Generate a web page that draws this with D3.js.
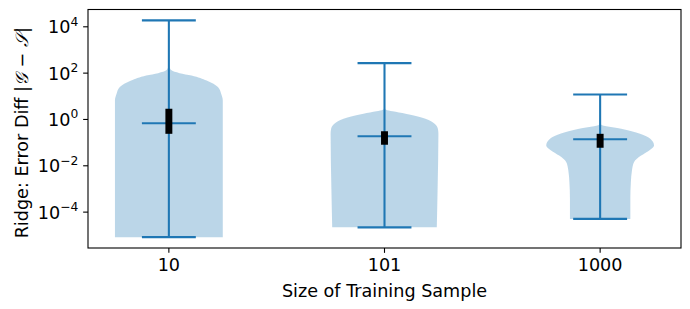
<!DOCTYPE html>
<html>
<head>
<meta charset="utf-8">
<script src="https://cdn.jsdelivr.net/npm/d3@7"></script>
<style>
  html, body { margin: 0; padding: 0; background: #fff; }
  svg { display: block; font-family: "DejaVu Sans", sans-serif; }
</style>
</head>
<body>
<svg id="chart" width="690" height="309"></svg>
<script>
// ---- data ----
const categories = ["10", "101", "1000"];
const whiskerMin = [8.3e-6, 2.2e-5, 5.1e-5];
const whiskerMax = [1.9e4, 270, 12];
const medians    = [0.69, 0.19, 0.14];
const quartile1  = [0.24, 0.081, 0.060];
const quartile3  = [2.9, 0.31, 0.24];
// violin outlines: [value, relative half-width]
const profile10 = [[1.9e4, 0], [200, 0.01], [132, 0.05], [100, 0.2], [79, 0.42], [48, 0.70],
                   [25, 0.91], [13, 0.97], [6.6, 1.0], [1, 1.0], [8.3e-6, 1.0]];
const profile101 = [[270, 0], [3, 0.01], [2.63, 0.03], [2.24, 0.15], [1.78, 0.39], [1.07, 0.76],
                    [0.65, 0.93], [0.40, 0.99], [0.24, 1.0], [1e-3, 0.985], [2.2e-5, 0.97]];
const profile1000 = [[12, 0], [0.7, 0.01], [0.59, 0.02], [0.40, 0.39], [0.24, 0.74], [0.148, 0.93],
                     [0.076, 1.0], [0.046, 0.91], [0.0275, 0.76], [0.0145, 0.63], [0.0063, 0.59],
                     [0.00195, 0.57], [3.7e-4, 0.56], [5.1e-5, 0.56]];
const profiles = [profile10, profile101, profile1000];
const yTickExponents = [-4, -2, 0, 2, 4];
const xLabel = "Size of Training Sample";

(function () {
// ---- layout ----
const svg = d3.select("#chart");
const mLeft = 88, mRight = 681, mTop = 9.5, mBottom = 248;
const C0 = "#1f77b4";
const fontSize = 17.6;

const positions = categories.map((d, i) => i + 1);
const x = d3.scaleLinear().domain([0.625, 3.375]).range([mLeft, mRight]);
const lo = Math.log10(d3.min(whiskerMin)), hi = Math.log10(d3.max(whiskerMax));
const pad = 0.05 * (hi - lo);
const y = d3.scaleLog().domain([Math.pow(10, lo - pad), Math.pow(10, hi + pad)]).range([mBottom, mTop]);

const halfW = x(1.25) - x(1);
const capW = x(1.125) - x(1);

// violin bodies
const g = svg.append("g");
profiles.forEach((prof, i) => {
  const cx = x(positions[i]);
  const area = d3.area()
    .y(d => y(d[0]))
    .x0(d => cx - d[1] * halfW)
    .x1(d => cx + d[1] * halfW)
    .curve(d3.curveMonotoneY);
  g.append("path")
    .attr("d", area(prof))
    .attr("fill", C0)
    .attr("fill-opacity", 0.3)
    .attr("stroke", "none");
});

// lines: vertical bars, caps, medians
positions.forEach((p, i) => {
  const cx = x(p);
  g.append("line").attr("x1", cx).attr("x2", cx)
    .attr("y1", y(whiskerMin[i])).attr("y2", y(whiskerMax[i]))
    .attr("stroke", C0).attr("stroke-width", 2.08);
  [whiskerMin[i], whiskerMax[i], medians[i]].forEach(v => {
    g.append("line").attr("x1", cx - capW).attr("x2", cx + capW)
      .attr("y1", y(v)).attr("y2", y(v))
      .attr("stroke", C0).attr("stroke-width", 2.08);
  });
  // quartile box
  g.append("line").attr("x1", cx).attr("x2", cx)
    .attr("y1", y(quartile1[i])).attr("y2", y(quartile3[i]))
    .attr("stroke", "#000").attr("stroke-width", 6.94);
});

// axes frame
svg.append("rect")
  .attr("x", mLeft).attr("y", mTop)
  .attr("width", mRight - mLeft).attr("height", mBottom - mTop)
  .attr("fill", "none").attr("stroke", "#000").attr("stroke-width", 1.1);

// x ticks
const xt = svg.append("g");
positions.forEach((p, i) => {
  const px = x(p);
  xt.append("line").attr("x1", px).attr("x2", px)
    .attr("y1", mBottom).attr("y2", mBottom + 4.86)
    .attr("stroke", "#000").attr("stroke-width", 1.1);
  xt.append("text").attr("x", px).attr("y", mBottom + 4.86 + 4.86 + 13.2)
    .attr("text-anchor", "middle").attr("font-size", fontSize).attr("fill", "#000")
    .text(categories[i]);
});

// y ticks
const yt = svg.append("g");
yTickExponents.forEach(e => {
  const py = y(Math.pow(10, e));
  yt.append("line").attr("x1", mLeft - 4.86).attr("x2", mLeft)
    .attr("y1", py).attr("y2", py)
    .attr("stroke", "#000").attr("stroke-width", 1.1);
  const t = yt.append("text").attr("x", mLeft - 4.86 - 4.86).attr("y", py + 6.5)
    .attr("text-anchor", "end").attr("font-size", fontSize).attr("fill", "#000");
  t.append("tspan").text("10");
  t.append("tspan").attr("dy", -7.5).attr("font-size", 12.3)
    .text(e < 0 ? "\u2212" + Math.abs(e) : String(e));
});

// axis labels
svg.append("text")
  .attr("x", (mLeft + mRight) / 2).attr("y", 296.5)
  .attr("text-anchor", "middle").attr("font-size", fontSize).attr("fill", "#000")
  .text(xLabel);

const yl = svg.append("text")
  .attr("transform", `translate(28,${(mTop + mBottom) / 2 + 4}) rotate(-90)`)
  .attr("text-anchor", "middle").attr("font-size", fontSize).attr("fill", "#000");
yl.append("tspan").text("Ridge: Error Diff |");
yl.append("tspan").attr("font-style", "italic").text("\uD835\uDCA2");
yl.append("tspan").text(" \u2212 ");
yl.append("tspan").attr("font-style", "italic").text("\uD835\uDCAE");
yl.append("tspan").text("|");
})();
</script>
</body>
</html>
